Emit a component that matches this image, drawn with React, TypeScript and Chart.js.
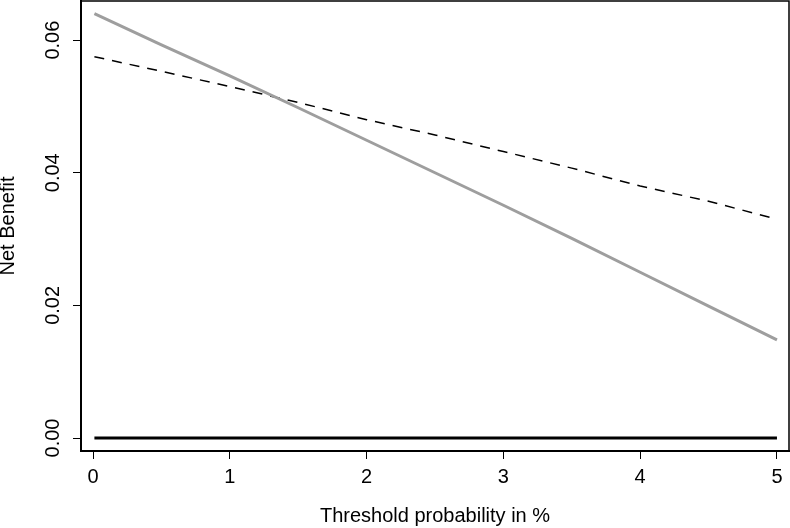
import React, { useEffect, useRef } from "react";
import { Chart, registerables } from "chart.js";

Chart.register(...registerables);

const xTickValues = [0, 1, 2, 3, 4, 5];
const xTickLabels = ["0", "1", "2", "3", "4", "5"];
const yTickValues = [0, 0.02, 0.04, 0.06];
const yTickLabels = ["0.00", "0.02", "0.04", "0.06"];

const thresholds = [0.01, 0.5, 1, 1.5, 2, 2.5, 3, 3.5, 4, 4.5, 5];
const modelNB = [0.0575, 0.0553, 0.053, 0.0506, 0.048, 0.0457, 0.0432, 0.0407, 0.038, 0.0357, 0.033];
const treatAllNB = [0.064, 0.0593, 0.0546, 0.0498, 0.0449, 0.04, 0.0351, 0.0301, 0.025, 0.0199, 0.0148];
const treatNoneNB = [0, 0, 0, 0, 0, 0, 0, 0, 0, 0, 0];

const xTitle = "Threshold probability in %";
const yTitle = "Net Benefit";

const FONT = "'Liberation Sans', Arial, sans-serif";

const framePlugin = {
  id: "frame",
  afterDatasetsDraw(chart: any) {
    const { ctx, chartArea } = chart;
    ctx.save();
    ctx.strokeStyle = "#000";
    ctx.lineWidth = 1.5;
    ctx.beginPath();
    ctx.moveTo(chartArea.left, chartArea.top);
    ctx.lineTo(chartArea.right, chartArea.top);
    ctx.lineTo(chartArea.right, chartArea.bottom);
    ctx.stroke();
    ctx.restore();
  },
};

export default function App() {
  const ref = useRef<HTMLCanvasElement | null>(null);

  useEffect(() => {
    document.body.style.margin = "0";
    const canvas = ref.current!;
    const toPts = (ys: number[]) => thresholds.map((x, i) => ({ x, y: ys[i] }));
    const chart = new Chart(canvas, {
      type: "line",
      data: {
        datasets: [
          {
            data: toPts(treatNoneNB),
            borderColor: "#000",
            borderWidth: 3,
            pointRadius: 0,
            tension: 0,
          },
          {
            data: toPts(treatAllNB),
            borderColor: "#9e9e9e",
            borderWidth: 3,
            pointRadius: 0,
            tension: 0,
          },
          {
            data: toPts(modelNB),
            borderColor: "#000",
            borderWidth: 1.5,
            borderDash: [10, 8],
            pointRadius: 0,
            tension: 0,
          },
        ],
      },
      options: {
        responsive: false,
        animation: false,
        devicePixelRatio: 1,
        layout: { padding: { top: 1, right: 1, left: 0, bottom: 0 } },
        plugins: { legend: { display: false }, tooltip: { enabled: false } },
        scales: {
          x: {
            type: "linear",
            min: -0.088,
            max: 5.088,
            afterBuildTicks: (scale: any) => {
              scale.ticks = xTickValues.map((v) => ({ value: v }));
            },
            afterFit: (scale: any) => {
              scale.height = 77;
              scale.paddingLeft = 0;
              scale.paddingRight = 0;
            },
            ticks: {
              color: "#000",
              font: { family: FONT, size: 20 },
              padding: 6,
              maxRotation: 0,
              minRotation: 0,
              callback: (v: any) => {
                const i = xTickValues.indexOf(Number(v));
                return i >= 0 ? xTickLabels[i] : "";
              },
            },
            grid: {
              display: true,
              drawOnChartArea: false,
              drawTicks: true,
              tickLength: 8,
              color: "#000",
              lineWidth: 1,
            },
            border: { display: true, color: "#000", width: 2 },
            title: {
              display: true,
              text: xTitle,
              color: "#000",
              font: { family: FONT, size: 20, lineHeight: 1 },
              padding: { top: 0, bottom: 2 },
            },
          },
          y: {
            type: "linear",
            min: -0.00196,
            max: 0.0659,
            afterBuildTicks: (scale: any) => {
              scale.ticks = yTickValues.map((v) => ({ value: v }));
            },
            afterFit: (scale: any) => {
              scale.width = 81;
              scale.paddingTop = 0;
              scale.paddingBottom = 0;
            },
            ticks: {
              color: "#000",
              font: { family: FONT, size: 20 },
              padding: 0,
              minRotation: 90,
              maxRotation: 90,
              crossAlign: "center",
              callback: (v: any) => {
                const i = yTickValues.findIndex((t) => Math.abs(t - Number(v)) < 1e-9);
                return i >= 0 ? yTickLabels[i] : "";
              },
            },
            grid: {
              display: true,
              drawOnChartArea: false,
              drawTicks: true,
              tickLength: 8,
              color: "#000",
              lineWidth: 1,
            },
            border: { display: true, color: "#000", width: 2 },
            title: {
              display: true,
              text: yTitle,
              color: "#000",
              font: { family: FONT, size: 20, lineHeight: 0.85 },
              padding: { top: 0, bottom: 0 },
            },
          },
        },
      },
      plugins: [framePlugin],
    } as any);
    return () => chart.destroy();
  }, []);

  return (
    <div style={{ position: "fixed", left: 0, top: 0, width: 790, height: 528, background: "#fff" }}>
      <canvas ref={ref} width={790} height={528} style={{ display: "block" }} />
    </div>
  );
}
